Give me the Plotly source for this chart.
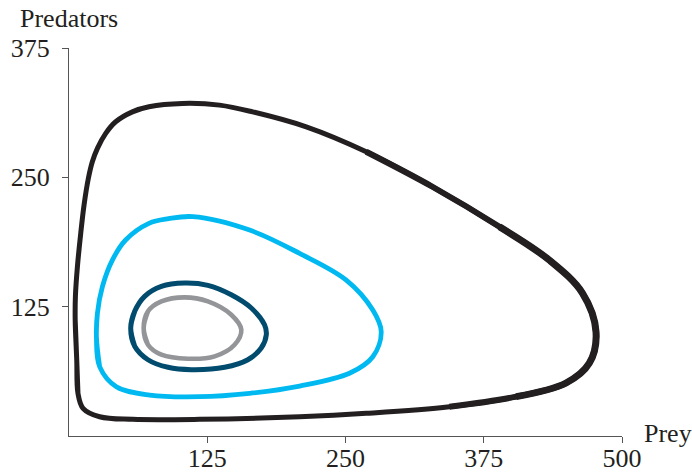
import plotly.graph_objects as go

# Outer black cycle (prey, predators)
black_prey = [7.0, 5.6, 5.8, 7.6, 10.6, 13.6, 17.5, 21.1, 25.7, 33.2, 42.2, 57.3, 72.3, 102.5, 136.1,
              166.0, 214.5, 268.7, 328.6, 389.2, 434.3, 464.2, 476.5, 470.5, 449.4, 404.3, 344.0,
              268.7, 208.5, 118.1, 57.6, 27.7, 12.7, 8.1]
black_pred = [73.4, 112.0, 135.0, 163.6, 195.8, 223.2, 249.0, 265.0, 278.0, 292.5, 303.7, 313.3, 318.2, 321.4, 319.8,
              313.3, 298.8, 274.7, 240.9, 202.2, 170.0, 138.2, 100.8, 70.5, 51.2, 38.0, 28.3,
              21.9, 18.6, 16.1, 16.1, 18.6, 26.8, 41.3]

# Light blue cycle
blue_prey = [24.8, 25.7, 30.2, 39.2, 51.2, 72.3, 90.0, 112.0, 163.3, 208.5, 250.7, 274.7, 282.3, 274.7,
             253.6, 208.5, 163.3, 118.1, 72.9, 42.8, 27.7]
blue_pred = [95.9, 118.6, 144.3, 170.0, 189.4, 205.5, 210.0, 212.0, 199.0, 176.5, 150.7, 121.7, 100.8, 76.6,
             60.6, 48.3, 41.3, 38.0, 39.6, 47.6, 67.0]

# Dark teal cycle
teal_prey = [55.8, 59.4, 68.4, 83.5, 104.5, 125.6, 146.7, 164.8, 176.8, 178.4, 173.8, 161.7, 140.7,
             110.6, 89.5, 71.4, 59.4]
teal_pred = [104.3, 120.5, 135.0, 144.6, 147.8, 145.6, 136.5, 123.7, 107.5, 97.9, 85.0, 73.7, 66.4,
             64.1, 66.4, 73.7, 86.7]

# Gray cycle
gray_prey = [67.5, 71.4, 83.5, 104.5, 125.6, 146.7, 155.8, 149.7, 131.7, 107.5, 83.5, 71.4]
gray_pred = [104.3, 120.5, 130.1, 134.0, 130.1, 117.2, 102.7, 88.2, 77.0, 74.7, 78.6, 88.2]

x_ticks = [125, 250, 375, 500]
y_ticks = [125, 250, 375]


def closed(xs, ys):
    # wrap around so the spline joins smoothly
    return [xs[-1]] + xs + xs[:2], [ys[-1]] + ys + ys[:2]


fig = go.Figure()
series = [
    (black_prey, black_pred, "#231f20", 5.0),
    (blue_prey, blue_pred, "#00b9f1", 4.8),
    (teal_prey, teal_pred, "#004b6e", 5.0),
    (gray_prey, gray_pred, "#939598", 4.6),
]
for i, (xs, ys, col, w) in enumerate(series):
    cx, cy = closed(xs, ys)
    fig.add_trace(go.Scatter(x=cx, y=cy, mode="lines",
                             line=dict(color=col, width=w, shape="spline", smoothing=1.0),
                             hoverinfo="skip", showlegend=False))
    if i == 0:
        # the outer cycle is drawn heavier along its right-hand side
        fig.add_trace(go.Scatter(x=xs[17:27], y=ys[17:27], mode="lines",
                                 line=dict(color=col, width=6.0, shape="spline", smoothing=1.0),
                                 hoverinfo="skip", showlegend=False))
        fig.add_trace(go.Scatter(x=xs[19:26], y=ys[19:26], mode="lines",
                                 line=dict(color=col, width=7.0, shape="spline", smoothing=1.0),
                                 hoverinfo="skip", showlegend=False))

font = dict(family="Liberation Serif, Times New Roman, serif", size=26, color="#231f20")

axis_common = dict(ticks="outside", ticklen=6, tickwidth=1, tickcolor="#555",
                   showline=True, linecolor="#555", linewidth=1, showgrid=False,
                   zeroline=False, tickfont=font, fixedrange=True, automargin=False)

fig.update_layout(
    width=692, height=473,
    margin=dict(l=69, r=70, t=48, b=37, autoexpand=False),
    paper_bgcolor="white", plot_bgcolor="white",
    font=font,
    showlegend=False,
    xaxis=dict(range=[0, 500], tickvals=x_ticks, ticklabelstandoff=-7, **axis_common),
    yaxis=dict(range=[0, 375], tickvals=y_ticks, ticklabelstandoff=7, **axis_common),
    annotations=[
        dict(text="Predators", xref="paper", yref="paper", x=-0.092, y=1.077,
             xanchor="left", yanchor="middle", showarrow=False, font=font),
        dict(text="Prey", xref="paper", yref="paper", x=1.036, y=0.006,
             xanchor="left", yanchor="middle", showarrow=False, font=font),
    ],
)

fig.write_html("out.html", config={"displayModeBar": False},
               post_script="document.body.style.margin='0';document.body.style.overflow='hidden';")
